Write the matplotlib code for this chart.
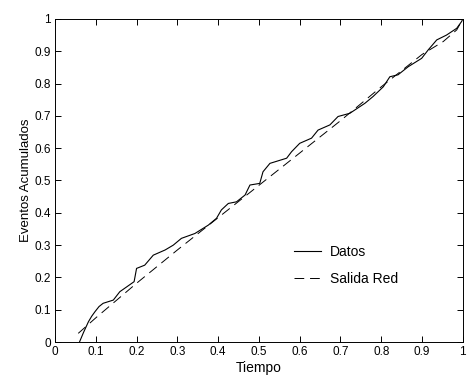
import matplotlib
matplotlib.use("Agg")
import matplotlib.pyplot as plt

plt.rcParams['font.family'] = ['Liberation Sans', 'DejaVu Sans']

# datos observados (eventos acumulados)
t_datos = [0.06, 0.07, 0.082, 0.09, 0.098, 0.108, 0.118, 0.143, 0.159, 0.176, 0.194, 0.2,
           0.22, 0.241, 0.27, 0.29, 0.31, 0.343, 0.376, 0.396, 0.408, 0.425, 0.445, 0.466,
           0.478, 0.502, 0.51, 0.527, 0.568, 0.58, 0.6, 0.629, 0.645, 0.674, 0.694, 0.723,
           0.76, 0.78, 0.805, 0.821, 0.841, 0.866, 0.899, 0.915, 0.936, 0.96, 0.985, 0.997, 1.0]
y_datos = [0.0, 0.03, 0.063, 0.08, 0.094, 0.11, 0.12, 0.13, 0.156, 0.171, 0.187, 0.228,
           0.238, 0.269, 0.285, 0.3, 0.321, 0.336, 0.362, 0.383, 0.409, 0.429, 0.434, 0.455,
           0.486, 0.491, 0.527, 0.553, 0.569, 0.589, 0.615, 0.631, 0.656, 0.672, 0.698, 0.708,
           0.739, 0.76, 0.79, 0.821, 0.827, 0.852, 0.878, 0.904, 0.935, 0.95, 0.971, 0.992, 1.0]

# salida de la red
t_red = [0.057, 0.1, 0.2, 0.3, 0.4, 0.5, 0.6, 0.7, 0.8, 0.9, 0.952, 0.985, 1.0]
y_red = [0.027, 0.075, 0.182, 0.285, 0.385, 0.485, 0.585, 0.685, 0.79, 0.89, 0.93, 0.966, 1.0]

ticks = [i / 10 for i in range(11)]
tick_labels = ['0', '0.1', '0.2', '0.3', '0.4', '0.5', '0.6', '0.7', '0.8', '0.9', '1']

fig = plt.figure(figsize=(4.68, 3.78), dpi=100)
ax = fig.add_axes([0.1175, 0.095, 0.8715, 0.855])

ax.plot(t_datos, y_datos, color='black', linewidth=0.8, label='Datos')
ax.plot(t_red, y_red, color='black', linewidth=0.7, linestyle=(0, (10, 6)), label='Salida Red')

ax.set_xlim(0, 1)
ax.set_ylim(0, 1)
ax.set_xticks(ticks)
ax.set_yticks(ticks)
ax.set_xticklabels(tick_labels)
ax.set_yticklabels(tick_labels)
ax.tick_params(direction='in', top=True, right=True, labelsize=8.5, length=4, width=0.7, pad=3)
for s in ax.spines.values():
    s.set_linewidth(0.7)

ax.set_xlabel('Tiempo', fontsize=10, labelpad=2)
ax.set_ylabel('Eventos Acumulados', fontsize=9.5, labelpad=2)

ax.legend(frameon=False, loc='upper left', bbox_to_anchor=(0.586, 0.30),
          borderaxespad=0, borderpad=0, fontsize=10, handlelength=1.95,
          handletextpad=0.65, labelspacing=0.95)

fig.savefig('out.png', dpi=100)
